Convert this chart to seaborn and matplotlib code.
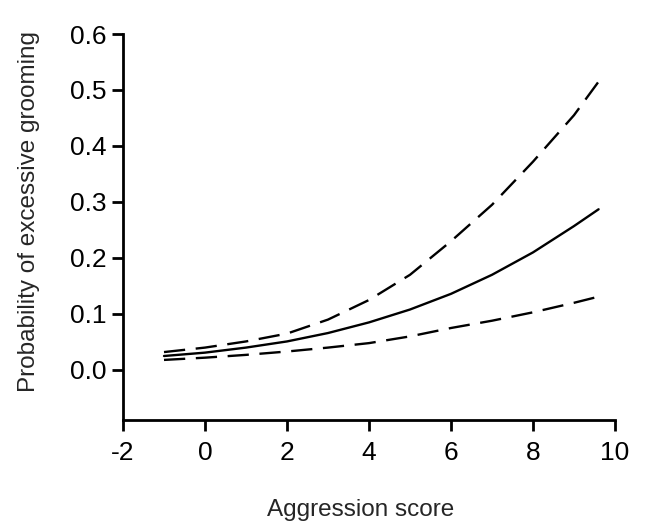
import matplotlib
matplotlib.use('Agg')
import matplotlib.pyplot as plt
import seaborn as sns
import pandas as pd

# values
aggression = [-1, 0, 1, 2, 3, 4, 5, 6, 7, 8, 9, 9.6]
fitted = [0.025, 0.031, 0.040, 0.051, 0.066, 0.085, 0.108, 0.136, 0.170, 0.210, 0.257, 0.287]
upper_ci = [0.032, 0.040, 0.051, 0.065, 0.090, 0.125, 0.170, 0.230, 0.295, 0.372, 0.455, 0.515]
lower_ci = [0.018, 0.022, 0.027, 0.033, 0.040, 0.048, 0.060, 0.075, 0.088, 0.103, 0.120, 0.131]

data = pd.DataFrame({'x': aggression, 'fit': fitted, 'upper': upper_ci, 'lower': lower_ci})

sns.set_style('ticks')
plt.rcParams['font.family'] = ['Liberation Sans', 'DejaVu Sans']
plt.rcParams['axes.unicode_minus'] = False

fig = plt.figure(figsize=(6.59, 5.29), dpi=100)
ax = fig.add_axes([123 / 659, 109 / 529, 492 / 659, 386 / 529])

dash = (0, (9, 4.5))
sns.lineplot(data=data, x='x', y='fit', ax=ax, color='black', lw=1.7)
sns.lineplot(data=data, x='x', y='upper', ax=ax, color='black', lw=1.7, linestyle=dash)
sns.lineplot(data=data, x='x', y='lower', ax=ax, color='black', lw=1.7, linestyle=dash)

ax.set_xlim(-2, 10)
ax.set_ylim(-0.0893, 0.6)
ax.set_xticks([-2, 0, 2, 4, 6, 8, 10])
ax.set_yticks([0.0, 0.1, 0.2, 0.3, 0.4, 0.5, 0.6])
ax.set_yticklabels(['0.0', '0.1', '0.2', '0.3', '0.4', '0.5', '0.6'])
ax.tick_params(labelsize=19, length=8, width=2, colors='black', pad=4)
ax.tick_params(axis='x', pad=7)
ax.set_xlabel('Aggression score', fontsize=17.5)
ax.set_ylabel('Probability of excessive grooming', fontsize=17.5)
ax.xaxis.set_label_coords(0.482, -0.205)
ax.yaxis.set_label_coords(-0.168, 0.539)
sns.despine(ax=ax)
for s in ['left', 'bottom']:
    ax.spines[s].set_linewidth(2)
    ax.spines[s].set_color('black')

fig.savefig('out.png', dpi=100)
